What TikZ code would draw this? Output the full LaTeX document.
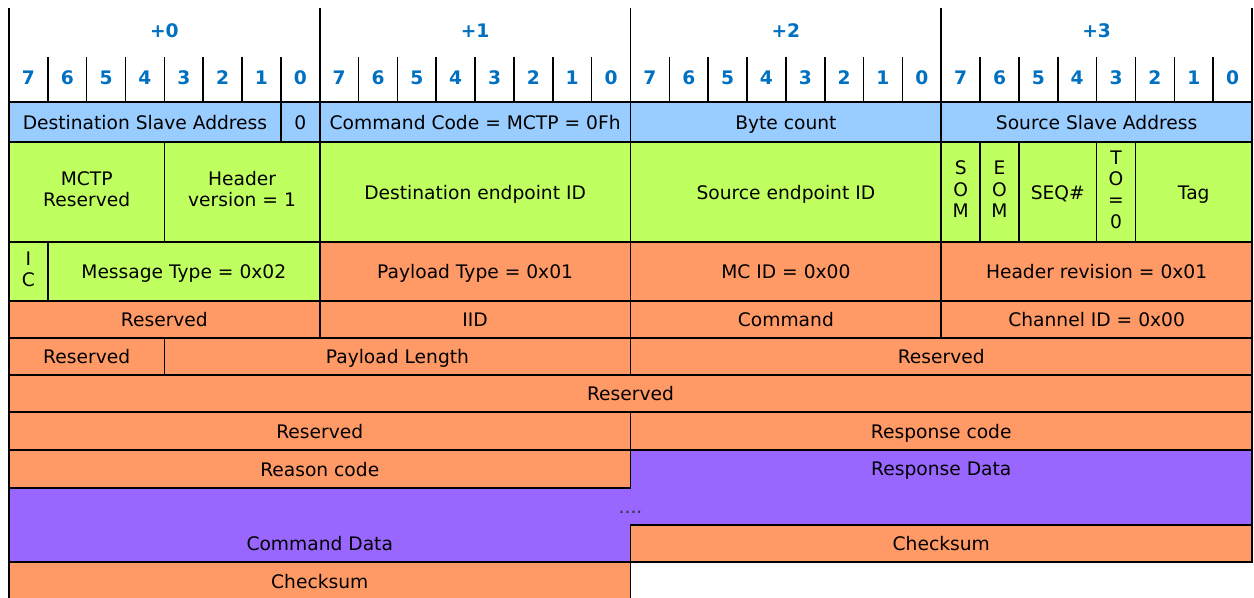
\documentclass[tikz,border=0pt]{standalone}
\usepackage{fontspec}
\setmainfont{DejaVu Sans}

\definecolor{hdrblue}{RGB}{0,112,192}
\definecolor{smbblue}{RGB}{153,204,255}
\definecolor{mctpgreen}{RGB}{192,255,96}
\definecolor{ncsiorange}{RGB}{255,153,102}
\definecolor{datapurple}{RGB}{153,102,255}

\newcommand{\stacked}[1]{\begin{tabular}{@{}c@{}}#1\end{tabular}}

\begin{document}
\begin{tikzpicture}[
    x=29.1328pt, y=-0.75pt,
    every node/.style={
        font=\fontsize{14}{16}\selectfont,
        text height=10.6pt,
        text depth=0pt
    },
    multiline/.style={text height={}, text depth={}},
    grid/.style={line width=1.2pt},
    cell/.style={
        draw,
        line width=1.2pt,
        inner sep=0pt
    },
    bits/.style={minimum width=#1*29.1328pt},
    rowh/.style={minimum height=#1*0.75pt},
    smb/.style={cell, fill=smbblue, rowh=40},
    mctp/.style={cell, fill=mctpgreen},
    ncsi/.style={cell, fill=ncsiorange},
    hdrlabel/.style={
        font=\fontsize{14}{16}\selectfont\bfseries,
        text=hdrblue
    }
]
    \useasboundingbox (-0.2317,0) rectangle (32.0515,598);

    % Byte offsets and bit numbers
    \foreach \b in {0,...,3}
        \node[hdrlabel] (byte\b) at (8*\b+4,30) {+\b};
    \foreach \i in {0,...,31} {
        \pgfmathtruncatemacro\bitnum{7-mod(\i,8)}
        \node[hdrlabel] (bit\i) at (\i+0.5,77) {\bitnum};
    }
    \foreach \i in {0,8,...,32}
        \draw[grid] (\i,8) -- (\i,102);
    \foreach \i in {1,...,31}
        \draw[grid] (\i,57) -- (\i,102);

    % SMBus header
    \node[smb, bits=7] (dstaddr) at (3.5,122) {Destination Slave Address};
    \node[smb, bits=1] (rwbit) at (7.5,122) {0};
    \node[smb, bits=8] (cmdcode) at (12,122) {Command Code = MCTP = 0Fh};
    \node[smb, bits=8] (bytecount) at (20,122) {Byte count};
    \node[smb, bits=8] (srcaddr) at (28,122) {Source Slave Address};

    % MCTP transport header
    \node[mctp, multiline, rowh=100, bits=4] (mctpres) at (2,192) {\stacked{MCTP\\Reserved}};
    \node[mctp, multiline, rowh=100, bits=4] (hdrver) at (6,192) {\stacked{Header\\version = 1}};
    \node[mctp, rowh=100, bits=8] (dsteid) at (12,192) {Destination endpoint ID};
    \node[mctp, rowh=100, bits=8] (srceid) at (20,192) {Source endpoint ID};
    \node[mctp, multiline, rowh=100, bits=1] (som) at (24.5,192) {\stacked{S\\O\\M}};
    \node[mctp, multiline, rowh=100, bits=1] (eom) at (25.5,192) {\stacked{E\\O\\M}};
    \node[mctp, rowh=100, bits=2] (seq) at (27,192) {SEQ\#};
    \node[mctp, multiline, rowh=100, bits=1] (tobit) at (28.5,192) {\stacked{T\\O\\=\\0}};
    \node[mctp, rowh=100, bits=3] (tag) at (30.5,192) {Tag};

    % Message type and NC-SI header
    \node[mctp, multiline, rowh=59, bits=1] (icbit) at (0.5,271.5) {\stacked{I\\C}};
    \node[mctp, rowh=59, bits=7] (msgtype) at (4.5,271.5) {Message Type = 0x02};
    \node[ncsi, rowh=59, bits=8] (pltype) at (12,271.5) {Payload Type = 0x01};
    \node[ncsi, rowh=59, bits=8] (mcid) at (20,271.5) {MC ID = 0x00};
    \node[ncsi, rowh=59, bits=8] (hdrrev) at (28,271.5) {Header revision = 0x01};

    \node[ncsi, rowh=37, bits=8] (resa) at (4,319.5) {Reserved};
    \node[ncsi, rowh=37, bits=8] (iid) at (12,319.5) {IID};
    \node[ncsi, rowh=37, bits=8] (command) at (20,319.5) {Command};
    \node[ncsi, rowh=37, bits=8] (chanid) at (28,319.5) {Channel ID = 0x00};

    \node[ncsi, rowh=37, bits=4] (resb) at (2,356.5) {Reserved};
    \node[ncsi, rowh=37, bits=12] (pllen) at (10,356.5) {Payload Length};
    \node[ncsi, rowh=37, bits=16] (resc) at (24,356.5) {Reserved};

    \node[ncsi, rowh=37, bits=32] (resd) at (16,393.5) {Reserved};

    % Response / command payload
    \node[ncsi, rowh=38, bits=16] (rese) at (8,431) {Reserved};
    \node[ncsi, rowh=38, bits=16] (respcode) at (24,431) {Response code};
    \node[ncsi, rowh=38, bits=16] (reason) at (8,469) {Reason code};

    \draw[grid, fill=datapurple]
        (0,488) -- (16,488) -- (16,450) -- (32,450) -- (32,525)
        -- (16,525) -- (16,562) -- (0,562) -- cycle;
    \node (respdata) at (24,468) {Response Data};
    \node[text=black!80] (dots) at (16,506) {....};
    \node (cmddata) at (8,543) {Command Data};

    \node[ncsi, rowh=37, bits=16] (respcsum) at (24,543.5) {Checksum};
    \node[ncsi, rowh=38, bits=16] (cmdcsum) at (8,581) {Checksum};

\end{tikzpicture}
\end{document}
